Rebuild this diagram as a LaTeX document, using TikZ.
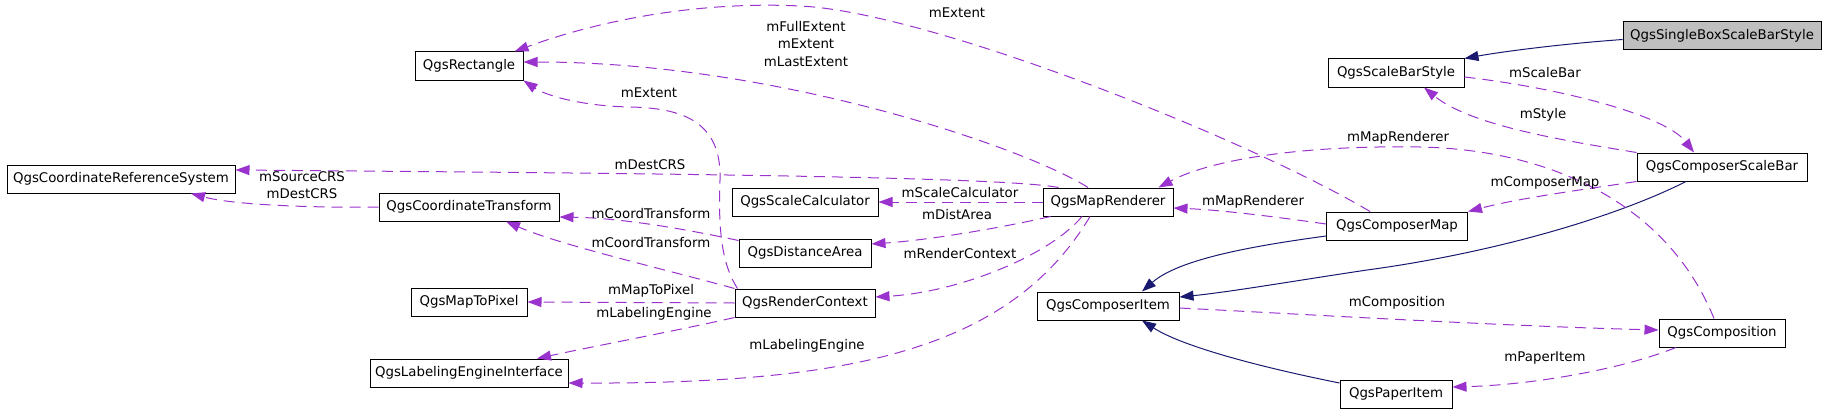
\documentclass[tikz,border=0pt]{standalone}
\usepackage{fontspec}
\setmainfont{DejaVu Sans}
\usetikzlibrary{calc,arrows.meta}
\definecolor{usecol}{HTML}{9A32CD}
\definecolor{isacol}{HTML}{191970}

\begin{document}
\begin{tikzpicture}[x=1pt,y=-1pt,
    every node/.style={font=\fontsize{13.33}{17.5}\selectfont},
    cls/.style={draw,line width=1pt,minimum height=28pt,inner sep=0pt},
    uses/.style={usecol,line width=1pt,dash pattern=on 11pt off 7pt,-{Triangle[length=14pt,width=10pt]}},
    isa/.style={isacol,line width=1pt,-{Triangle[length=14pt,width=10pt]}},
    lbl/.style={align=center,inner sep=0pt}]
        \useasboundingbox (0,0) rectangle (1827,412);

        % classes
        \node[cls,fill=gray!50,minimum width=198pt] (sbs) at (1722,35.5) {QgsSingleBoxScaleBarStyle};
        \node[cls,minimum width=136pt] (sbstyle) at (1396,73) {QgsScaleBarStyle};
        \node[cls,minimum width=108pt] (rect) at (469,66) {QgsRectangle};
        \node[cls,minimum width=228pt] (crs) at (121,179) {QgsCoordinateReferenceSystem};
        \node[cls,minimum width=180pt] (ct) at (469,207) {QgsCoordinateTransform};
        \node[cls,minimum width=146pt] (sc) at (805,202) {QgsScaleCalculator};
        \node[cls,minimum width=130pt] (mr) at (1108,202) {QgsMapRenderer};
        \node[cls,minimum width=170pt] (csb) at (1722,167) {QgsComposerScaleBar};
        \node[cls,minimum width=141pt] (cm) at (1397,226) {QgsComposerMap};
        \node[cls,minimum width=132pt] (da) at (805,253) {QgsDistanceArea};
        \node[cls,minimum width=142pt] (ci) at (1108,306) {QgsComposerItem};
        \node[cls,minimum width=116pt] (m2p) at (469,302) {QgsMapToPixel};
        \node[cls,minimum width=140pt] (rc) at (805,303) {QgsRenderContext};
        \node[cls,minimum width=198pt] (lei) at (469,373) {QgsLabelingEngineInterface};
        \node[cls,minimum width=126pt] (comp) at (1722,333) {QgsComposition};
        \node[cls,minimum width=112pt] (pi) at (1396,394) {QgsPaperItem};

        % inheritance
        \draw[isa] ([yshift=-4pt]sbs.west) .. controls (1560,44) and (1500,52) .. (sbstyle.north east);
        \draw[isa] ([yshift=-10pt]cm.west) .. controls (1260,245) and (1180,258) .. ([xshift=34pt]ci.north);
        \draw[isa] ([xshift=-36pt]csb.south) .. controls (1620,215) and (1500,252) .. (1367,270)
            .. controls (1300,280) and (1230,292) .. ([yshift=9pt]ci.east);
        \draw[isa] ([yshift=11pt]pi.west) .. controls (1250,365) and (1180,345) .. ([xshift=34pt]ci.south);

        % members
        \draw[uses] ([xshift=-20pt]mr.north) .. controls (1030,150) and (780,62) .. ([yshift=4pt]rect.east);
        \draw[uses] ([xshift=-27pt]cm.north) .. controls (1250,140) and (930,12) .. (800,6)
            .. controls (700,1) and (600,20) .. ([xshift=-9pt]rect.north east);
        \draw[uses] ([xshift=3pt]rc.north west) .. controls (722,265) and (718,230) .. (720,180)
            .. controls (722,120) and (680,108) .. (630,107)
            .. controls (580,106) and (545,95) .. (rect.south east);
        \draw[uses] ([xshift=16pt]mr.north west) .. controls (1000,176) and (600,173) .. ([yshift=9pt]crs.east);
        \draw[uses] (ct.west) .. controls (300,208) and (230,204) .. ([xshift=70pt]crs.south);
        \draw[uses] (mr.west) -- (sc.east);
        \draw[uses] ([xshift=8pt]mr.south west) .. controls (1000,228) and (930,240) .. ([yshift=9pt]da.east);
        \draw[uses] ([xshift=-26pt]mr.south) .. controls (1050,255) and (960,292) .. ([yshift=6pt]rc.east);
        \draw[uses] ([xshift=-18pt]mr.south) .. controls (1010,350) and (850,384) .. ([yshift=-10pt]lei.east);
        \draw[uses] ([yshift=-2pt]da.north west) .. controls (680,228) and (620,218) .. ([yshift=-10pt]ct.east);
        \draw[uses] (rc.north west) .. controls (660,268) and (560,245) .. ([xshift=37pt]ct.south);
        \draw[uses] (rc.west) -- (m2p.east);
        \draw[uses] (rc.south west) .. controls (680,330) and (600,345) .. ([xshift=68pt]lei.north);
        \draw[uses] ([yshift=2pt]cm.west) .. controls (1270,216) and (1220,210) .. ([yshift=-6pt]mr.east);
        \draw[uses] ([xshift=-8pt]comp.north) .. controls (1670,210) and (1560,150) .. (1420,147)
            .. controls (1300,145) and (1210,160) .. ([xshift=-15pt]mr.north east);
        \draw[uses] (csb.north west) .. controls (1560,140) and (1470,125) .. ([xshift=28pt]sbstyle.south);
        \draw[uses] ([yshift=-4pt]sbstyle.east) .. controls (1560,88) and (1665,115) .. ([xshift=-28pt]csb.north);
        \draw[uses] (csb.south west) .. controls (1580,190) and (1520,198) .. (cm.north east);
        \draw[uses] ([yshift=-2pt]ci.east) .. controls (1300,314) and (1500,326) .. ([yshift=3pt]comp.west);
        \draw[uses] ([xshift=-46pt]comp.south) .. controls (1620,370) and (1530,385) .. ([yshift=7pt]pi.east);

        % member names
        \node[lbl] (lfull) at (806,44) {mFullExtent\\mExtent\\mLastExtent};
        \node[lbl] (lextmap) at (957,13) {mExtent};
        \node[lbl] (lextrc) at (649,93) {mExtent};
        \node[lbl] (ldest) at (650,165) {mDestCRS};
        \node[lbl] (lsrc) at (302,185) {mSourceCRS\\mDestCRS};
        \node[lbl] (lscale) at (960,193) {mScaleCalculator};
        \node[lbl] (ldist) at (957,215) {mDistArea};
        \node[lbl] (lrc) at (960,254) {mRenderContext};
        \node[lbl] (llabmr) at (807,346) {mLabelingEngine};
        \node[lbl] (lctda) at (651,214) {mCoordTransform};
        \node[lbl] (lctrc) at (651,243) {mCoordTransform};
        \node[lbl] (lm2p) at (651,291) {mMapToPixel};
        \node[lbl] (llabrc) at (654,314) {mLabelingEngine};
        \node[lbl] (lmrcomp) at (1398,138) {mMapRenderer};
        \node[lbl] (lmrcm) at (1253,202) {mMapRenderer};
        \node[lbl] (lbar) at (1545,73) {mScaleBar};
        \node[lbl] (lstyle) at (1543,115) {mStyle};
        \node[lbl] (lcm) at (1545,183) {mComposerMap};
        \node[lbl] (lcomp) at (1397,303) {mComposition};
        \node[lbl] (lpaper) at (1545,358) {mPaperItem};
    \end{tikzpicture}
\end{document}
